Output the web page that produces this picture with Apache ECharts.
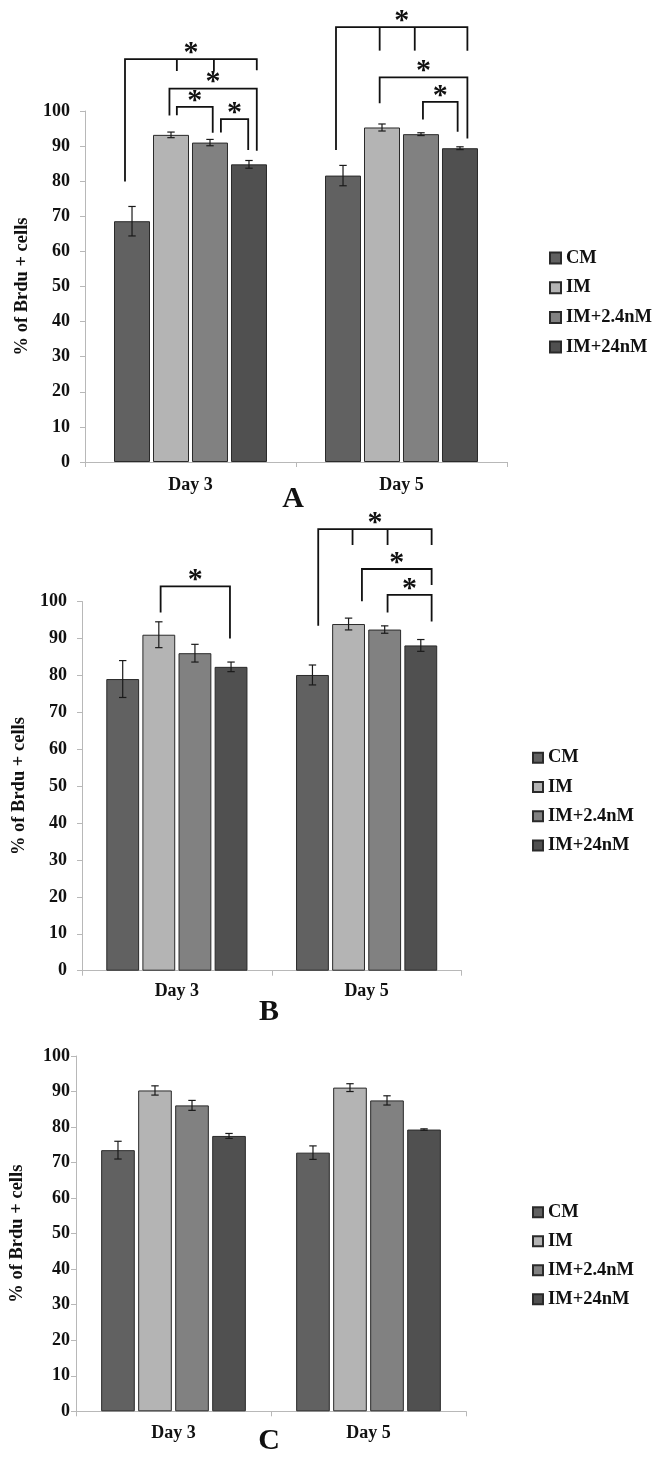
<!DOCTYPE html>
<html><head><meta charset="utf-8">
<script src="https://cdn.jsdelivr.net/npm/echarts@6/dist/echarts.min.js"></script>
<style>html,body{margin:0;padding:0;background:#fff}#c{width:661px;height:1461px}</style>
</head><body><div id="c"></div>
<script>
// ---------- data ----------
const categories = ['Day 3', 'Day 5'];
const groupNames = ['CM', 'IM', 'IM+2.4nM', 'IM+24nM'];
const groupColors = ['#616161', '#b4b4b4', '#818181', '#505050'];
const yMin = 0, yMax = 100, yStep = 10;
const yAxisTitle = '% of Brdu + cells';
const panelLetters = ['A', 'B', 'C'];

// Panel A (mean, error) per group, [Day 3, Day 5]
const aCM = [68.6, 81.6],   aCMErr = [4.2, 2.9];
const aIM = [93.2, 95.3],   aIMErr = [0.8, 1.0];
const aIM2 = [91.0, 93.4],  aIM2Err = [0.9, 0.4];
const aIM24 = [84.8, 89.4], aIM24Err = [1.1, 0.4];

// Panel B
const bCM = [79.0, 80.1],   bCMErr = [5.0, 2.7];
const bIM = [91.0, 93.9],   bIMErr = [3.5, 1.6];
const bIM2 = [86.0, 92.4],  bIM2Err = [2.4, 1.0];
const bIM24 = [82.3, 88.1], bIM24Err = [1.3, 1.6];

// Panel C
const cCM = [73.5, 72.8],   cCMErr = [2.5, 1.9];
const cIM = [90.3, 91.1],   cIMErr = [1.3, 1.1];
const cIM2 = [86.1, 87.5],  cIM2Err = [1.4, 1.3];
const cIM24 = [77.5, 79.3], cIM24Err = [0.7, 0.2];

// significance brackets: [day, fromBar, toBar, level, leftFoot, rightFoot, innerTicks, tickFoot]
const sigA = [
  [0, -0.18, 3.2, 114.8, 79.9, 111.6, [1.15, 2.1], 111.4],
  [0, 0.96, 3.2, 106.4, 98.7, 88.7, [], 0],
  [0, 1.15, 2.07, 101.2, 98.8, 93.8, [], 0],
  [0, 2.28, 2.98, 97.7, 93.9, 88.9, [], 0],
  [1, -0.18, 3.19, 123.9, 88.9, 117.2, [0.94, 1.84], 117.2],
  [1, 0.94, 3.19, 109.6, 102.2, 92.2, [], 0],
  [1, 2.05, 2.94, 102.6, 97.6, 94.1, [], 0]
];
const sigB = [
  [0, 1.05, 2.97, 104.1, 97.0, 90.0, [], 0],
  [1, 0.16, 3.3, 119.6, 93.4, 115.3, [1.11, 2.08], 115.3],
  [1, 1.37, 3.3, 108.8, 100.1, 104.5, [], 0],
  [1, 2.08, 3.3, 101.8, 97.0, 94.6, [], 0]
];
const sigC = [];

// ---------- layout ----------
const FONT = '"Liberation Serif", "Times New Roman", serif';
const panels = [
  { means: [aCM, aIM, aIM2, aIM24], errs: [aCMErr, aIMErr, aIM2Err, aIM24Err], sig: sigA,
    grid: { left: 85, top: 111, width: 422, height: 351 }, g: 0.275, b: 0.083,
    nameGap: 47, labelMargin: 15, xMargin: 14,
    legend: { left: 549, top: 248, itemGap: 9.7, size: 11 }, letter: [293, 499] },
  { means: [bCM, bIM, bIM2, bIM24], errs: [bCMErr, bIMErr, bIM2Err, bIM24Err], sig: sigB,
    grid: { left: 82, top: 601.5, width: 379.5, height: 369.2 }, g: 0.256, b: 0.1,
    nameGap: 49, labelMargin: 15, xMargin: 12,
    legend: { left: 532, top: 747.7, itemGap: 9.3, size: 10 }, letter: [269, 1012] },
  { means: [cCM, cIM, cIM2, cIM24], errs: [cCMErr, cIMErr, cIM2Err, cIM24Err], sig: sigC,
    grid: { left: 74, top: 1056, width: 392, height: 355.3 }, g: 0.258, b: 0.1,
    nameGap: 49, labelMargin: 6, xMargin: 13,
    legend: { left: 532, top: 1202.3, itemGap: 9, size: 10 }, letter: [269, 1441] }
];

function barCenter(api, cat, pos, g, b) {
  const c = api.coord([cat, 0])[0];
  const bw = api.size([1, 0])[0];
  const usable = bw * (1 - g);
  const w = usable / (4 + 3 * b);
  return c - usable / 2 + w / 2 + pos * w * (1 + b);
}

const lineStyle = { stroke: '#1a1a1a', lineWidth: 1.2 };
const brStyle = { stroke: '#111', lineWidth: 1.8 };

const grids = [], xAxes = [], yAxes = [], series = [], legends = [], graphics = [];
panels.forEach((p, i) => {
  grids.push(p.grid);
  xAxes.push({
    type: 'category', gridIndex: i, data: categories, boundaryGap: true,
    axisLine: { lineStyle: { color: '#b8b8b8', width: 1 } },
    axisTick: { show: true, length: 5, lineStyle: { color: '#b8b8b8' } },
    axisLabel: { fontFamily: FONT, fontWeight: 'bold', fontSize: 18, color: '#111', margin: p.xMargin }
  });
  yAxes.push({
    type: 'value', gridIndex: i, min: yMin, max: yMax, interval: yStep,
    name: yAxisTitle, nameLocation: 'middle', nameGap: p.nameGap,
    nameTextStyle: { fontFamily: FONT, fontWeight: 'bold', fontSize: 18.5, color: '#111' },
    axisLine: { show: true, lineStyle: { color: '#b8b8b8', width: 1 } },
    axisTick: { show: true, length: 5, lineStyle: { color: '#b8b8b8' } },
    splitLine: { show: false },
    axisLabel: { fontFamily: FONT, fontWeight: 'bold', fontSize: 18, color: '#111', margin: p.labelMargin }
  });
  groupNames.forEach((n, s) => {
    series.push({
      type: 'bar', name: n, xAxisIndex: i, yAxisIndex: i, data: p.means[s],
      barGap: (p.b * 100) + '%', barCategoryGap: (p.g * 100) + '%',
      itemStyle: { color: groupColors[s], borderColor: '#2a2a2a', borderWidth: 1 },
      emphasis: { disabled: true }, animation: false
    });
  });
  const errData = [];
  groupNames.forEach((n, s) => categories.forEach((c, k) => errData.push([k, s, p.means[s][k], p.errs[s][k]])));
  series.push({
    type: 'custom', name: 'err' + i, xAxisIndex: i, yAxisIndex: i, z: 5, animation: false,
    data: errData, encode: { x: 0, y: 2 },
    renderItem(params, api) {
      const cat = api.value(0), s = api.value(1), m = api.value(2), e = api.value(3);
      const x = barCenter(api, cat, s, p.g, p.b);
      const yT = api.coord([cat, m + e])[1], yB = api.coord([cat, m - e])[1];
      const h = 3.7;
      return { type: 'group', children: [
        { type: 'line', shape: { x1: x, y1: yT, x2: x, y2: yB }, style: lineStyle },
        { type: 'line', shape: { x1: x - h, y1: yT, x2: x + h, y2: yT }, style: lineStyle },
        { type: 'line', shape: { x1: x - h, y1: yB, x2: x + h, y2: yB }, style: lineStyle }
      ] };
    }
  });
  if (p.sig.length) {
    series.push({
      type: 'custom', name: 'sig' + i, xAxisIndex: i, yAxisIndex: i, z: 6, animation: false, clip: false,
      data: p.sig.map(r => [r[0], Math.min(r[3], yMax)]), encode: { x: 0, y: 1 },
      renderItem(params, api) {
        const r = p.sig[params.dataIndex];
        const cat = r[0];
        const x1 = barCenter(api, cat, r[1], p.g, p.b), x2 = barCenter(api, cat, r[2], p.g, p.b);
        const y = api.coord([cat, r[3]])[1];
        const yl = api.coord([cat, r[4]])[1], yr = api.coord([cat, r[5]])[1];
        const ch = [
          { type: 'polyline', shape: { points: [[x1, yl], [x1, y], [x2, y], [x2, yr]] }, style: Object.assign({ fill: null }, brStyle) }
        ];
        r[6].forEach(t => {
          const xt = barCenter(api, cat, t, p.g, p.b);
          const yt = api.coord([cat, r[7]])[1];
          ch.push({ type: 'line', shape: { x1: xt, y1: y, x2: xt, y2: yt }, style: brStyle });
        });
        ch.push({ type: 'text', x: (x1 + x2) / 2, y: y - 6,
          style: { text: '*', font: 'bold 30px ' + FONT, fill: '#111', align: 'center', verticalAlign: 'middle',
                   textAlign: 'center', textVerticalAlign: 'middle' } });
        return { type: 'group', children: ch };
      }
    });
  }
  legends.push({
    data: groupNames, orient: 'vertical', left: p.legend.left, top: p.legend.top,
    itemWidth: p.legend.size, itemHeight: p.legend.size, itemGap: p.legend.itemGap, icon: 'rect',
    selectedMode: false, padding: 0,
    textStyle: { fontFamily: FONT, fontWeight: 'bold', fontSize: 18.5, color: '#111', lineHeight: 20 }
  });
  graphics.push({ type: 'text', x: p.letter[0], y: p.letter[1],
    style: { text: panelLetters[i], font: 'bold 30px ' + FONT, fill: '#111', align: 'center', verticalAlign: 'middle',
             textAlign: 'center', textVerticalAlign: 'middle' } });
});

const chart = echarts.init(document.getElementById('c'), null, { renderer: 'canvas' });
chart.setOption({
  backgroundColor: '#fff', animation: false,
  grid: grids, xAxis: xAxes, yAxis: yAxes, series: series, legend: legends, graphic: graphics
});
</script></body></html>
